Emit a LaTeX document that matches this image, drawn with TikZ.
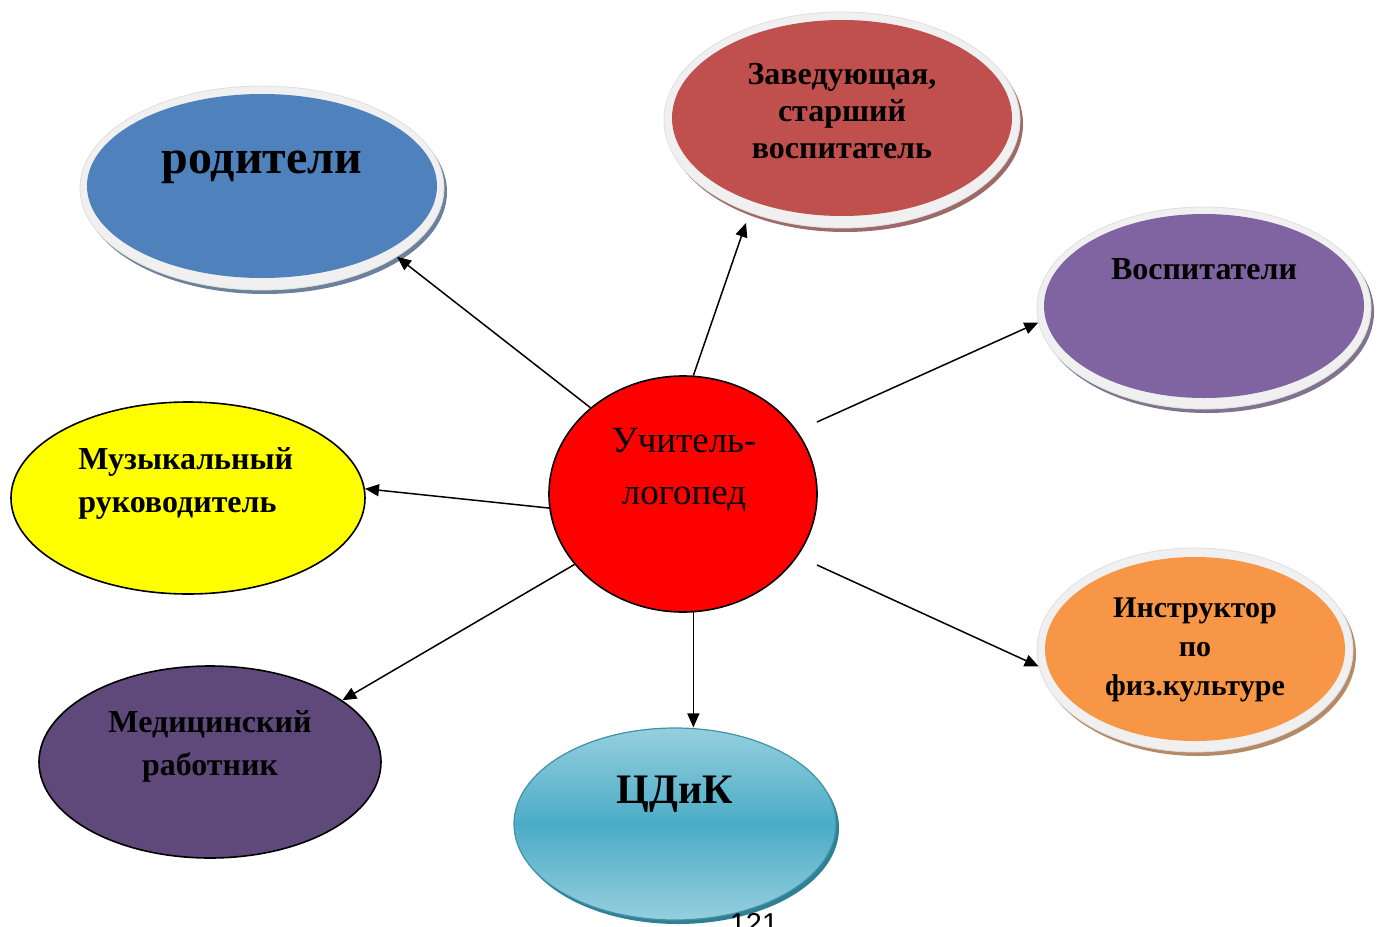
\documentclass[tikz,border=0pt]{standalone}
\usepackage{fontspec}
\setmainfont{Liberation Serif}
\newfontfamily\arialf{Liberation Sans}
\usetikzlibrary{shapes.geometric,arrows.meta,calc}
\definecolor{cblue}{HTML}{4F81BD}
\definecolor{cred}{HTML}{C0504D}
\definecolor{cviolet}{HTML}{8064A2}
\definecolor{corange}{HTML}{F79646}
\definecolor{cyell}{HTML}{FFFF00}
\definecolor{cplum}{HTML}{5F497A}
\definecolor{cteal}{HTML}{4BACC6}
\definecolor{cteallight}{HTML}{95CFDE}
\definecolor{ctealdark}{HTML}{2F7F95}
\definecolor{halogray}{HTML}{F0F0F0}
\begin{document}
\begin{tikzpicture}[x=0.5pt,y=-0.5pt,
  oval/.style={ellipse, inner sep=0pt},
  halo/.style={oval, fill=halogray, draw=gray!25, line width=0.4pt},
  shade3d/.style={oval, fill=#1!45!gray},
  mainov/.style={oval, fill=#1},
  bordov/.style={oval, fill=#1, draw=black, line width=0.8pt},
  conn/.style={draw=black, line width=0.75pt, -{Triangle[length=7pt,width=6pt]}},
  big/.style={font=\fontsize{24}{28}\selectfont\bfseries},
  lbl/.style={font=\fontsize{16}{18.3}\selectfont\bfseries, align=center, inner sep=0pt},
]
\clip (0,0) rectangle (1380,926);
\fill[white] (0,0) rectangle (1380,926);

% родители
\node[shade3d=cblue, minimum width=182pt, minimum height=102pt] (rods) at (265,192) {};
\node[halo, minimum width=182pt, minimum height=102pt] (rod) at (262,188) {};
\node[mainov=cblue, minimum width=175pt, minimum height=92pt] (rodm) at (262,186) {};
\node[big, inner sep=0pt] (rodt) at (262,167) {родители};

% Заведующая
\node[shade3d=cred, minimum width=178pt, minimum height=108pt] (zavs) at (845,124) {};
\node[halo, minimum width=178pt, minimum height=108pt] (zav) at (842,120) {};
\node[mainov=cred, minimum width=170pt, minimum height=98pt] (zavm) at (842,118) {};
\node[lbl] (zavt) at (842,111) {Заведующая,\\старший\\воспитатель};

% Воспитатели
\node[shade3d=cviolet, minimum width=167pt, minimum height=101pt] (voss) at (1207,312) {};
\node[halo, minimum width=167pt, minimum height=101pt] (vos) at (1204,308) {};
\node[mainov=cviolet, minimum width=160pt, minimum height=92pt] (vosm) at (1204,306) {};
\node[lbl] (vost) at (1204,269) {Воспитатели};

% Инструктор
\node[shade3d=corange, minimum width=158pt, minimum height=102pt] (inss) at (1198,654) {};
\node[halo, minimum width=158pt, minimum height=102pt] (ins) at (1195,650) {};
\node[mainov=corange, minimum width=150pt, minimum height=92pt] (insm) at (1195,649) {};
\node[lbl, font=\fontsize{15}{19.5}\selectfont\bfseries] (inst) at (1195,650) {Инструктор\\по\\физ.культуре};

% Музыкальный руководитель
\node[bordov=cyell, minimum width=177pt, minimum height=96pt] (muz) at (188,498) {};
\node[lbl, font=\fontsize{16}{21.5}\selectfont\bfseries, align=left, anchor=west] (muzt) at (78,483) {Музыкальный\\руководитель};

% Медицинский работник
\node[bordov=cplum, minimum width=171pt, minimum height=96pt] (med) at (210,762) {};
\node[lbl, font=\fontsize{16}{21.5}\selectfont\bfseries] (medt) at (210,746) {Медицинский\\работник};

% ЦДиК
\node[oval, fill=ctealdark, minimum width=161pt, minimum height=96pt] (cdiks) at (678,828) {};
\node[oval, top color=cteallight, bottom color=cteallight, middle color=cteal, draw=cteal!85!black, line width=0.6pt, minimum width=161pt, minimum height=96pt] (cdik) at (675,824) {};
\node[font=\fontsize{21}{24}\selectfont\bfseries, inner sep=0pt] (cdikt) at (675,794) {ЦДиК};

% центр
\node[bordov=red, minimum width=134pt, minimum height=118pt] (c) at (683,494) {};
\node[font=\fontsize{18.5}{26}\selectfont, align=center, inner sep=0pt] (ct) at (684,470) {Учитель-\\логопед};

% номер страницы
\node[font=\arialf\fontsize{14.4}{16}\selectfont, anchor=base, inner sep=0pt] (pg) at (754,933) {121};

% связи
\coordinate (s3) at (817,422);
\coordinate (s7) at (817,565);
\coordinate (t2) at (746,223);
\draw[conn] (c.137) -- (rod.-27);
\draw[conn] (c.85) -- (t2);
\draw[conn] (s3) -- (vos.185);
\draw[conn] (c.-174) -- (muz.3);
\draw[conn] (c.213) -- (med.25);
\draw[conn] (c.-85) -- (c.-85 |- cdik.north);
\draw[conn] (s7) -- (ins.186);
\end{tikzpicture}
\end{document}
